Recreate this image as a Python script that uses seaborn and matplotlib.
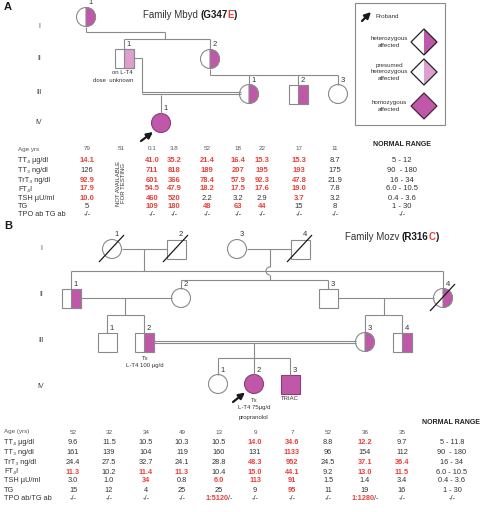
import matplotlib
matplotlib.use("Agg")
import matplotlib.pyplot as plt
from matplotlib.patches import Circle, Wedge, Rectangle, Polygon, Arc
import seaborn as sns

sns.set_theme(style="white")
plt.rcParams['font.family'] = ['Liberation Sans', 'DejaVu Sans']

# ---- data: panel A (Family Mbyd) ----
a_ages = ['79', '51', '0.1', '3.8', '52', '18', '22', '17', '11']
a_labels = ['TT₄ µg/dl', 'TT₃ ng/dl', 'TrT₃ ng/dl', 'FT₄I', 'TSH µU/ml', 'TG', 'TPO ab TG ab']
a_tt4 = ['14.1', None, '41.0', '35.2', '21.4', '16.4', '15.3', '15.3', '8.7']
a_tt3 = ['126', None, '711', '818', '189', '207', '195', '193', '175']
a_trt3 = ['92.9', None, '601', '366', '78.4', '57.9', '92.3', '47.8', '21.9']
a_ft4i = ['17.9', None, '54.5', '47.9', '18.2', '17.5', '17.6', '19.0', '7.8']
a_tsh = ['10.0', None, '460', '520', '2.2', '3.2', '2.9', '3.7', '3.2']
a_tg = ['5', None, '109', '180', '48', '63', '44', '15', '8']
a_ab = ['-/-', None, '-/-', '-/-', '-/-', '-/-', '-/-', '-/-', '-/-']
a_low = [5, 90, 16, 6.0, 0.4, 1]
a_high = [12, 180, 34, 10.5, 3.6, 30]
a_normal = ['5 - 12', '90  - 180', '16 - 34', '6.0 - 10.5', '0.4 - 3.6', '1 - 30', '-/-']

# ---- data: panel B (Family Mozv) ----
b_ages = ['52', '32', '34', '49', '13', '9', '7', '52', '36', '35']
b_labels = ['TT₄ µg/dl', 'TT₃ ng/dl', 'TrT₃ ng/dl', 'FT₄I', 'TSH µU/ml', 'TG', 'TPO ab/TG ab']
b_tt4 = ['9.6', '11.5', '10.5', '10.3', '10.5', '14.0', '34.6', '8.8', '12.2', '9.7']
b_tt3 = ['161', '139', '104', '119', '160', '131', '1133', '96', '154', '112']
b_trt3 = ['24.4', '27.5', '32.7', '24.1', '28.8', '48.3', '952', '24.5', '37.1', '36.4']
b_ft4i = ['11.3', '10.2', '11.4', '11.3', '10.4', '15.0', '44.1', '9.2', '13.0', '11.5']
b_tsh = ['3.0', '1.0', '34', '0.8', '6.0', '113', '91', '1.5', '1.4', '3.4']
b_tg = ['15', '12', '4', '25', '25', '9', '95', '11', '19', '16']
b_ab = ['-/-', '-/-', '-/-', '-/-', '1:5120/-', '-/-', '-/-', '-/-', '1:1280/-', '-/-']
b_low = [5, 90, 16, 6.0, 0.4, 1]
b_high = [11.8, 180, 34, 10.5, 3.6, 30]
b_normal = ['5 - 11.8', '90  - 180', '16 - 34', '6.0 - 10.5', '0.4 - 3.6', '1 - 30', '-/-']

MAG = '#bf58a8'
PINK = '#dc9fcf'
RED = '#e8413b'
LN = '#8a8a8a'

fig = plt.figure(figsize=(4.8, 5.12), dpi=100)
ax = fig.add_axes([0, 0, 1, 1])
ax.set_xlim(0, 480)
ax.set_ylim(512, 0)
ax.set_aspect('equal')
ax.axis('off')
R = fig.canvas.get_renderer()


def line(xs, ys, c=LN, lw=0.8):
    ax.plot(xs, ys, color=c, lw=lw, solid_capstyle='butt')


def dline(x0, x1, y):
    line([x0, x1], [y - 1.2, y - 1.2])
    line([x0, x1], [y + 1.2, y + 1.2])


def symbol(kind, x, y, fill=None, num=None, dead=False):
    r = 9.5
    if kind == 'c':
        if fill == 'full':
            ax.add_patch(Circle((x, y), r, fc=MAG, ec='#8a3f7a', lw=0.8))
        else:
            ax.add_patch(Circle((x, y), r, fc='white', ec=LN, lw=0.8))
            if fill:
                ax.add_patch(Wedge((x, y), r, -90, 90, fc=MAG if fill == 'half' else PINK, ec=LN, lw=0.8))
    else:
        if fill == 'full':
            ax.add_patch(Rectangle((x - r, y - r), 2 * r, 2 * r, fc=MAG, ec='#8a3f7a', lw=0.8))
        else:
            ax.add_patch(Rectangle((x - r, y - r), 2 * r, 2 * r, fc='white', ec=LN, lw=0.8))
            if fill:
                ax.add_patch(Rectangle((x, y - r), r, 2 * r, fc=MAG if fill == 'half' else PINK, ec=LN, lw=0.8))
    if dead:
        line([x - 13, x + 12], [y + 13, y - 14], c='k', lw=0.9)
    if num:
        ax.text(x + 5, y - 14, num, fontsize=5.5, ha='center', va='center', color='#333333')


def arrow(x0, y0, x1, y1):
    ax.annotate('', xy=(x1, y1), xytext=(x0, y0),
                arrowprops=dict(arrowstyle='-|>', color='k', lw=1.6, mutation_scale=9,
                                shrinkA=0, shrinkB=0))


def rich(x, y, parts, fs, ha='center'):
    ts, ws = [], []
    for s, c, w in parts:
        t = ax.text(0, y, s, color=c, fontweight=w, fontsize=fs, va='center', ha='left')
        ws.append(t.get_window_extent(R).width)
        ts.append(t)
    x0 = x - sum(ws) / 2 if ha == 'center' else x
    for t, w in zip(ts, ws):
        t.set_x(x0)
        x0 += w


def txt(x, y, s, fs=5, c='#333333', ha='center', **kw):
    ax.text(x, y, s, fontsize=fs, color=c, ha=ha, va='center', **kw)


# ================= Panel A =================
txt(4, 7, 'A', fs=8, c='k', ha='left', fontweight='bold')
for g, gy in zip(['I', 'II', 'III', 'IV'], [27, 58, 92, 123]):
    txt(39, gy, g, fs=5, c='#444444')
rich(190, 15, [('Family Mbyd ', '#333333', 'normal'), ('(G347', 'k', 'bold'),
               ('E', RED, 'bold'), (')', 'k', 'bold')], 7)

# lines
line([86, 86], [26.5, 32]); line([86, 165], [32, 32]); line([165, 165], [32, 39])
line([124, 210], [39, 39]); line([124, 124], [39, 49]); line([210, 210], [39, 49.5])
line([133.5, 142], [58, 58]); line([142, 142], [58, 93])
dline(142, 240.5, 93)
line([161, 161], [94.5, 113.5])
line([210, 210], [68.5, 75]); line([210, 338], [75, 75])
for xx in [249, 298, 338]:
    line([xx, xx], [75, 85])

symbol('c', 86, 17, 'half', '1')
symbol('s', 124, 58, 'light', '1')
symbol('c', 210, 59, 'half', '2')
symbol('c', 249, 94, 'half', '1')
symbol('s', 298, 94, 'half', '2')
symbol('c', 338, 94, None, '3')
symbol('c', 161, 123, 'full', '1')
arrow(141, 141, 153, 132)
txt(133, 73, 'on L-T4', fs=4.3, ha='right')
txt(133, 81, 'dose  unknown', fs=4.3, ha='right')

# legend box
ax.add_patch(Rectangle((355, 3), 90, 122, fc='white', ec=LN, lw=0.8))
arrow(362, 21, 371, 12)
txt(375, 16, 'Proband', fs=4.5, ha='left')
for cy, lab, kind in [(42, 'heterozygous\naffected', 'half'),
                      (72, 'presumed\nheterozygous\naffected', 'light'),
                      (106, 'homozygous\naffected', 'full')]:
    txt(389, cy, lab, fs=4.5, linespacing=1.35)
    dx, dy, cx = 13, 13, 424
    if kind == 'full':
        ax.add_patch(Polygon([(cx - dx, cy), (cx, cy - dy), (cx + dx, cy), (cx, cy + dy)],
                             fc=MAG, ec='#4a2340', lw=0.9))
    else:
        ax.add_patch(Polygon([(cx - dx, cy), (cx, cy - dy), (cx, cy + dy)], fc='white', ec='none'))
        ax.add_patch(Polygon([(cx, cy - dy), (cx + dx, cy), (cx, cy + dy)],
                             fc=MAG if kind == 'half' else PINK, ec='none'))
        ax.add_patch(Polygon([(cx - dx, cy), (cx, cy - dy), (cx + dx, cy), (cx, cy + dy)],
                             fc='none', ec='#222222', lw=0.9))

# table A
a_cols = [87, 121, 152, 174, 207, 238, 262, 299, 335]
a_rows_y = [161, 170, 180, 189, 198, 206, 214]
a_data = [a_tt4, a_tt3, a_trt3, a_ft4i, a_tsh, a_tg, a_ab]
txt(18, 149, 'Age yrs', fs=4.5, ha='left', c='#555555')
for x, a in zip(a_cols, a_ages):
    txt(x, 149, a, fs=4.5, c='#555555')
txt(402, 144, 'NORMAL RANGE', fs=5, c='#222222', fontweight='bold')
for i, (lab, y) in enumerate(zip(a_labels, a_rows_y)):
    txt(18, y, lab, fs=5.3, ha='left', c='#333333')
    for x, v in zip(a_cols, a_data[i]):
        if v is None:
            continue
        red = i < 6 and not (a_low[i] <= float(v) <= a_high[i])
        txt(x, y, v, fs=5.5, c=RED if red else '#333333', fontweight='bold' if red else 'normal')
    txt(402, y, a_normal[i], fs=5.5)
txt(121, 183, 'NOT AVAILABLE\nFOR TESTING', fs=4.3, rotation=90, linespacing=1.1)

# ================= Panel B =================
txt(4, 226, 'B', fs=8, c='k', ha='left', fontweight='bold')
for g, gy in zip(['I', 'II', 'III', 'IV'], [249, 295, 340, 387]):
    txt(41, gy, g, fs=5, c='#444444')
rich(392, 237, [('Family Mozv ', '#333333', 'normal'), ('(R316', 'k', 'bold'),
                ('C', RED, 'bold'), (')', 'k', 'bold')], 7)

line([121.5, 166.5], [249, 249]); line([144, 144], [249, 271])
line([71, 443], [271, 271])
line([71, 71], [271, 288.5]); line([443, 443], [271, 288.5])
line([246.5, 290.5], [249, 249])
line([270, 270], [249, 267])
ax.add_patch(Arc((270, 271), 8, 8, theta1=90, theta2=270, ec=LN, lw=0.8))
line([270, 270], [275, 280])
line([181, 328], [280, 280]); line([181, 181], [280, 288.5]); line([328, 328], [280, 288.5])
line([80.5, 171.5], [298, 298]); line([125, 125], [298, 315])
line([107, 144], [315, 315]); line([107, 107], [315, 332.5]); line([144, 144], [315, 332.5])
line([337.5, 433.5], [298, 298]); line([384, 384], [298, 315])
line([365, 402], [315, 315]); line([365, 365], [315, 332.5]); line([402, 402], [315, 332.5])
dline(153.5, 355.5, 342)
line([254, 254], [343.2, 358])
line([218, 290], [358, 358])
for xx in [218, 254, 290]:
    line([xx, xx], [358, 374.5])

symbol('c', 112, 249, None, '1', dead=True)
symbol('s', 176, 249, None, '2', dead=True)
symbol('c', 237, 249, None, '3')
symbol('s', 300, 249, None, '4', dead=True)
symbol('s', 71, 298, 'half', '1')
symbol('c', 181, 298, None, '2')
symbol('s', 328, 298, None, '3')
symbol('c', 443, 298, 'half', '4', dead=True)
symbol('s', 107, 342, None, '1')
symbol('s', 144, 342, 'half', '2')
symbol('c', 365, 342, 'half', '3')
symbol('s', 402, 342, 'half', '4')
symbol('c', 218, 384, None, '1')
symbol('c', 254, 384, 'full', '2')
symbol('s', 290, 384, 'full', '3')
arrow(233, 402, 245, 392.5)
txt(145, 358, 'Tx', fs=4.3)
txt(145, 366, 'L-T4 100 µg/d', fs=4.3)
txt(254, 400, 'Tx', fs=4.3)
txt(254, 408, 'L-T4 75µg/d', fs=4.3)
txt(254, 417, 'propranolol', fs=4.3)
txt(290, 399, 'TRIAC', fs=4.3)

# table B
b_cols = [73, 109, 146, 182, 219, 255, 292, 328, 365, 402]
b_rows_y = [443, 452, 462, 472, 481, 490, 498]
b_data = [b_tt4, b_tt3, b_trt3, b_ft4i, b_tsh, b_tg, b_ab]
txt(4, 432, 'Age (yrs)', fs=4.5, ha='left', c='#555555')
for x, a in zip(b_cols, b_ages):
    txt(x, 432, a, fs=4.5, c='#555555')
txt(451, 423, 'NORMAL RANGE', fs=5, c='#222222', fontweight='bold')
for i, (lab, y) in enumerate(zip(b_labels, b_rows_y)):
    txt(4, y, lab, fs=5.3, ha='left', c='#333333')
    for x, v in zip(b_cols, b_data[i]):
        if i < 6:
            red = not (b_low[i] <= float(v) <= b_high[i])
            txt(x, y, v, fs=5.3, c=RED if red else '#333333', fontweight='bold' if red else 'normal')
        elif v.startswith('1:'):
            rich(x, y, [(v[:-2], RED, 'bold'), ('/-', '#333333', 'normal')], 5.3)
        else:
            txt(x, y, v, fs=5.3)
    txt(452, y, b_normal[i], fs=5.3)

fig.savefig('out.png', dpi=100)
